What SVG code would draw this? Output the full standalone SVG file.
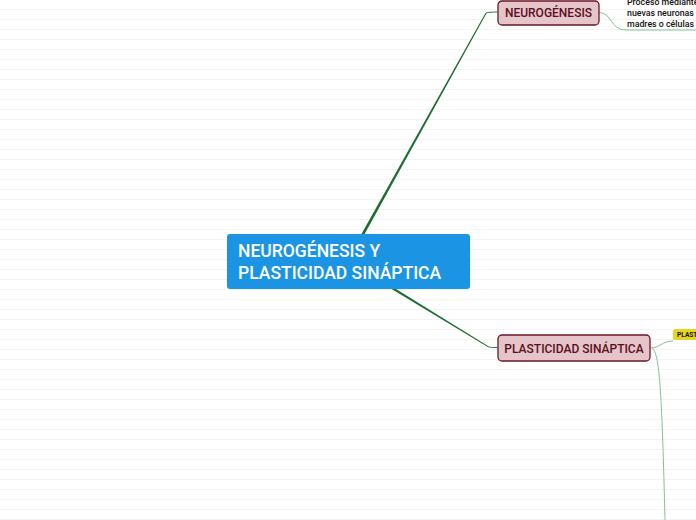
<svg xmlns="http://www.w3.org/2000/svg" width="696" height="520" viewBox="0 0 696 520">
<defs>
<pattern id="grid" x="0" y="0" width="696" height="10" patternUnits="userSpaceOnUse">
<rect x="0" y="9" width="696" height="1" fill="#f3f3f3"/>
</pattern>
<style>
.main{fill:#1b95e3;}
.mainT{fill:#ffffff;font-family:Roboto,"Liberation Sans",sans-serif;font-size:17.5px;font-weight:500;}
.sub{fill:#e5c4ca;stroke:#6a1626;stroke-width:1.3;}
.subT{fill:#5a0e1c;font-family:Roboto,"Liberation Sans",sans-serif;font-size:12px;font-weight:500;}
.dark{fill:#1f6d31;}
.light{fill:none;stroke:#84c197;stroke-width:1;}
.note{fill:#111111;font-family:Roboto,"Liberation Sans",sans-serif;font-size:8.8px;font-weight:500;}
.tag{fill:#e5d71d;}
.tagT{fill:#111111;font-family:Roboto,"Liberation Sans",sans-serif;font-size:6.6px;font-weight:700;}
</style>
</defs>
<rect width="696" height="520" fill="#ffffff"/>
<rect width="696" height="520" fill="url(#grid)"/>
<g id="connectors">
<path class="dark" d="M349.3,261.7 L486.4,13.4 Q488.5,12.2 497,12.5 L497,11.5 Q488,11.6 485.6,12.8 L346.7,260.3 Z"/>
<path class="dark" d="M347.2,262.3 L488.2,347.3 Q490.5,347.9 497,347.9 L497,346.9 Q491,346.9 488.8,346.4 L348.8,259.7 Z"/>
<path class="light" d="M599,12.5 C612,12.5 610,30 626,30 L696,30"/>
<path class="light" d="M650,348 C660,348 662,341 673,341"/>
<path class="light" d="M652,348 C660,352 662,400 665,520"/>
</g>
<g id="central">
<rect class="main" x="227" y="234" width="243" height="55" rx="3"/>
<text class="mainT" x="238" y="257">NEUROGÉNESIS Y</text>
<text class="mainT" x="238" y="279">PLASTICIDAD SINÁPTICA</text>
</g>
<g id="neurogenesis">
<rect class="sub" x="498" y="1" width="101" height="24" rx="4"/>
<text class="subT" x="548.5" y="17" text-anchor="middle">NEUROGÉNESIS</text>
</g>
<g id="neurogenesis-note">
<text class="note" x="627" y="5">Proceso mediante</text>
<text class="note" x="627" y="16">nuevas neuronas</text>
<text class="note" x="627" y="26.5">madres o células p</text>
</g>
<g id="plasticidad">
<rect class="sub" x="498" y="335" width="152" height="26" rx="4"/>
<text class="subT" x="574" y="352.5" text-anchor="middle">PLASTICIDAD SINÁPTICA</text>
</g>
<g id="plast-tag">
<rect class="tag" x="673" y="329" width="30" height="11" rx="2"/>
<text class="tagT" x="677" y="337">PLAST</text>
</g>
</svg>
